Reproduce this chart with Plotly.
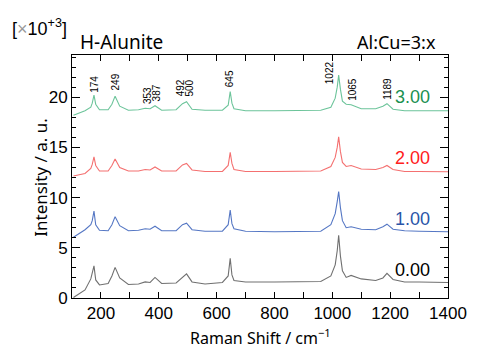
import plotly.graph_objects as go

# Raman shift sample positions (cm^-1)
shift = [105, 145, 165, 170, 176, 182, 195, 225, 238, 249, 265, 295, 330, 353, 370, 387, 410, 460,
         482, 496, 515, 560, 620, 640, 647, 653, 660, 700, 800, 900, 960, 995, 1010, 1017, 1022,
         1028, 1035, 1048, 1065, 1100, 1150, 1175, 1189, 1210, 1250, 1300, 1400]

# Intensities (x10^3), offset spectra
s000 = [0.05, 0.8, 1.9, 2.4, 3.2, 1.8, 1.3, 1.45, 2.2, 3.05, 2.0, 1.35, 1.4, 1.6, 1.55, 2.05, 1.45, 1.5,
        2.1, 2.4, 1.6, 1.4, 1.55, 2.2, 3.95, 2.3, 1.75, 1.6, 1.6, 1.6, 1.65, 2.2, 3.3, 4.7, 6.25,
        4.2, 2.7, 2.05, 2.25, 1.9, 1.75, 2.0, 2.45, 1.85, 1.6, 1.6, 1.55]
s100 = [6.05, 6.8, 7.3, 7.7, 8.65, 7.3, 6.75, 6.7, 7.3, 8.1, 7.2, 6.7, 6.75, 6.9, 6.85, 7.15, 6.7, 6.7,
        7.3, 7.45, 6.8, 6.65, 6.65, 7.3, 8.75, 7.4, 6.9, 6.65, 6.6, 6.6, 6.65, 7.3, 8.4, 9.6, 10.6,
        9.0, 7.7, 7.0, 7.1, 6.85, 6.8, 7.1, 7.35, 6.85, 6.7, 6.65, 6.6]
s200 = [12.15, 12.4, 12.9, 13.3, 14.05, 13.2, 12.65, 12.65, 13.2, 13.85, 13.0, 12.65, 12.65, 12.8,
        12.75, 13.05, 12.65, 12.65, 13.25, 13.4, 12.75, 12.6, 12.6, 13.2, 14.5, 13.4, 12.8, 12.6,
        12.6, 12.6, 12.65, 13.1, 14.0, 15.0, 16.05, 14.6, 13.5, 13.1, 13.2, 12.85, 12.8, 13.0,
        13.2, 12.8, 12.6, 12.6, 12.57]
s300 = [18.2, 18.65, 19.0, 19.4, 20.2, 19.3, 18.75, 18.75, 19.3, 20.1, 19.1, 18.7, 18.75, 18.9,
        18.85, 19.15, 18.7, 18.75, 19.35, 19.55, 18.8, 18.7, 18.7, 19.2, 20.55, 19.4, 18.85,
        18.65, 18.65, 18.65, 18.7, 19.0, 19.9, 21.0, 22.2, 20.8, 19.6, 19.3, 19.25, 18.85,
        18.85, 19.1, 19.35, 18.8, 18.65, 18.65, 18.65]

series_names = ["0.00", "1.00", "2.00", "3.00"]
series_values = [s000, s100, s200, s300]
line_colors = ["#707070", "#5577c4", "#f47070", "#6cc49a"]
label_colors = ["#000000", "#2a55a8", "#ff2020", "#1a9050"]
label_y = [2.79, 7.86, 13.93, 20.0]

peak_labels = ["174", "249", "353", "387", "492", "500", "645", "1022", "1065", "1189"]
peak_x = [175, 250, 359, 393, 474, 506, 645, 989, 1067, 1188]
peak_y = [21.3, 21.5, 20.2, 20.45, 20.9, 20.9, 21.85, 22.4, 20.8, 20.8]

fig = go.Figure()
for name, vals, col in zip(series_names, series_values, line_colors):
    fig.add_trace(go.Scatter(x=shift, y=vals, mode="lines", name=name,
                             line=dict(color=col, width=1.1),
                             showlegend=False))

ann = []
for name, ly, lc in zip(series_names, label_y, label_colors):
    ann.append(dict(x=1346, y=ly, xref="x", yref="y", text=name, showarrow=False,
                    xanchor="right", yanchor="middle",
                    font=dict(family="Liberation Sans", size=18, color=lc)))
for t, px, py in zip(peak_labels, peak_x, peak_y):
    ann.append(dict(x=px, y=py, xref="x", yref="y", text=t, showarrow=False, textangle=-90,
                    xanchor="center", yanchor="middle",
                    font=dict(family="Liberation Sans", size=10, color="black")))

tfont = "Noto Sans"
ann += [
    dict(x=0.0155, y=1.053, xref="paper", yref="paper", text="H-Alunite", showarrow=False,
         xanchor="left", yanchor="middle", font=dict(family=tfont, size=19, color="black")),
    dict(x=0.974, y=1.053, xref="paper", yref="paper", text="Al:Cu=3:x", showarrow=False,
         xanchor="right", yanchor="middle", font=dict(family=tfont, size=18, color="black")),
    dict(x=-0.166, y=1.115, xref="paper", yref="paper",
         text="[<span style='color:#999999'>×</span>10<sup>+3</sup>]", showarrow=False,
         xanchor="left", yanchor="middle", font=dict(family="Liberation Sans", size=18, color="black")),
    dict(x=-0.083, y=0.498, xref="paper", yref="paper", text="Intensity / a. u.", showarrow=False,
         textangle=-90, xanchor="center", yanchor="middle",
         font=dict(family=tfont, size=17, color="black")),
    dict(x=0.5, y=-0.16, xref="paper", yref="paper", text="Raman Shift / cm<sup>−1</sup>",
         showarrow=False, xanchor="center", yanchor="middle",
         font=dict(family=tfont, size=16, color="black")),
]

# page body adds an 8px offset, so the figure is shrunk and margins reduced accordingly
fig.update_layout(
    width=471, height=341,
    margin=dict(l=64, r=21, t=47, b=51),
    paper_bgcolor="white", plot_bgcolor="white",
    annotations=ann,
    xaxis=dict(range=[100, 1400], dtick=200, tick0=0, ticks="inside", ticklen=6,
               tickcolor="black", showline=True, linecolor="black", linewidth=1,
               mirror="allticks", showgrid=False, zeroline=False, ticklabeloverflow="allow",
               tickfont=dict(family="Liberation Sans", size=17, color="black"),
               minor=dict(dtick=100, tick0=0, ticks="inside", ticklen=6, tickcolor="black",
                          showgrid=False)),
    yaxis=dict(range=[0, 24.2], dtick=5, tick0=0, ticks="inside", ticklen=8,
               tickcolor="black", showline=True, linecolor="black", linewidth=1,
               mirror="allticks", showgrid=False, zeroline=False,
               tickfont=dict(family="Liberation Sans", size=17, color="black"),
               minor=dict(dtick=1, tick0=0, ticks="inside", ticklen=4, tickcolor="black",
                          showgrid=False)),
)

fig.write_html("out.html")
